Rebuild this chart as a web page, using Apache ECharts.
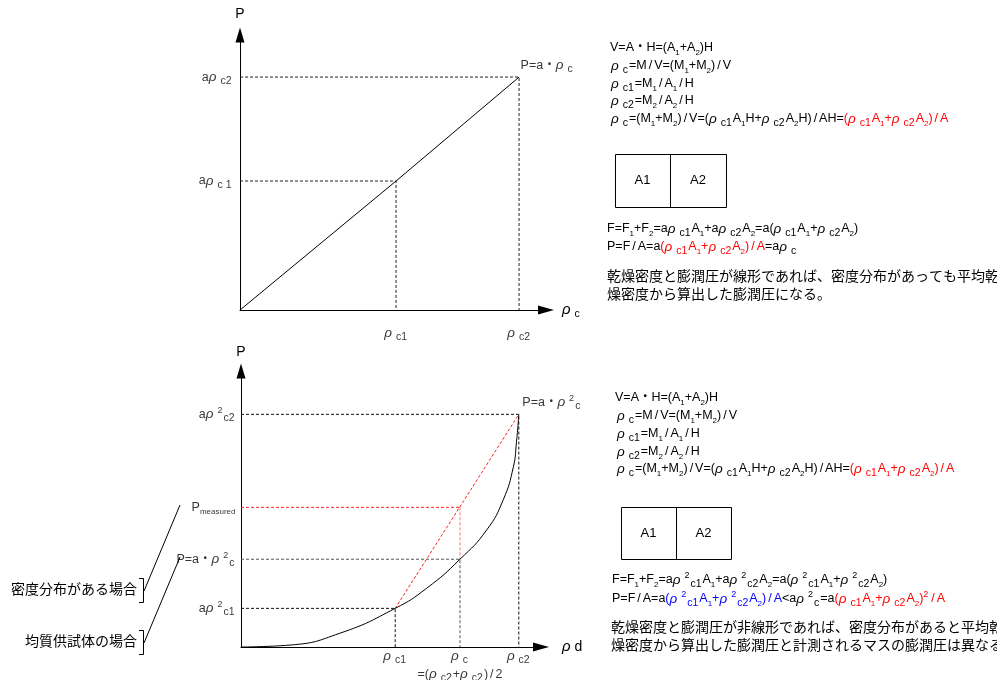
<!DOCTYPE html>
<html><head><meta charset="utf-8">
<script src="https://cdn.jsdelivr.net/npm/echarts@6/dist/echarts.min.js"></script>
<style>html,body{margin:0;padding:0;background:#fff}#c{width:997px;height:680px}</style>
</head><body><div id="c"></div><script>
// ---------------- data ----------------
// upper diagram (linear)
const topRho = [5.10, 9.12];              // ρc1, ρc2
const topP = [4.69, 8.47];                // aρc1, aρc2
const topLineX = [0, 5.10, 9.12];
const topLineY = [0, 4.69, 8.47];
const topXLabels = ['ρ_{c1}', 'ρ_{c2}'];
const topYLabels = ['aρ_{c 1}', 'aρ_{c2}'];
const topCurveLabel = 'P=a・ρ_c';
const topAxisNames = ['ρ_c', 'P'];

// lower diagram (non-linear)
const curveX = [0, 1.63, 3.30, 5.14, 6.19, 7.30, 8.19, 8.74, 9.08, 9.18, 9.26];
const curveY = [0, 0.07, 0.50, 1.40, 2.13, 3.18, 4.24, 5.33, 6.53, 7.40, 8.43];
const botRho = [5.14, 7.30, 9.26];        // ρc1, ρc, ρc2
const botP = [1.40, 3.18, 8.43];          // aρ²c1, aρ²c, aρ²c2
const pMeasured = 5.06;
const botXLabels = ['ρ_{c1}', 'ρ_c\n=(ρ_{c2}+ρ_{c2})/2', 'ρ_{c2}'];
const botYLabels = ['aρ^2_{c1}', 'P=a・ρ^2_c', 'aρ^2_{c2}'];
const pMeasuredLabel = 'P_{measured}';
const botCurveLabel = 'P=a・ρ^2_c';
const botAxisNames = ['ρd', 'P'];

// text blocks
const formulas = ['V=A・H=(A_1+A_2)H', 'ρ_c=M/V=(M_1+M_2)/V', 'ρ_{c1}=M_1/A_1/H', 'ρ_{c2}=M_2/A_2/H',
  'ρ_c=(M_1+M_2)/V=(ρ_{c1}A_1H+ρ_{c2}A_2H)/AH=#r(ρ_{c1}A_1+ρ_{c2}A_2)/A'];
const forceTop = ['F=F_1+F_2=aρ_{c1}A_1+aρ_{c2}A_2=a(ρ_{c1}A_1+ρ_{c2}A_2)',
  'P=F/A=a#r(ρ_{c1}A_1+ρ_{c2}A_2)/A#k=aρ_c'];
const forceBot = ['F=F_1+F_2=aρ^2_{c1}A_1+aρ^2_{c2}A_2=a(ρ^2_{c1}A_1+ρ^2_{c2}A_2)',
  'P=F/A=a#b(ρ^2_{c1}A_1+ρ^2_{c2}A_2)/A#k<aρ^2_c=a#r(ρ_{c1}A_1+ρ_{c2}A_2)^2/A'];
const noteTop = ['乾燥密度と膨潤圧が線形であれば、密度分布があっても平均乾', '燥密度から算出した膨潤圧になる。'];
const noteBot = ['乾燥密度と膨潤圧が非線形であれば、密度分布があると平均乾', '燥密度から算出した膨潤圧と計測されるマスの膨潤圧は異なる。'];
const caseLabels = ['密度分布がある場合', '均質供試体の場合'];
const boxLabels = ['A1', 'A2'];

// ---------------- helpers ----------------
const FONT = "'Liberation Sans', 'Noto Sans CJK JP', sans-serif";
const JFONT = "'Noto Sans CJK JP', sans-serif";
function mkRich(base) {
  const cols = {k: '#000000', r: '#ff0000', b: '#0000ff'};
  const R = {};
  for (const c in cols) {
    const col = cols[c];
    const common = {color: col, fill: col, fontFamily: FONT, lineHeight: 18};
    R[c] = Object.assign({}, common, {fontSize: base, verticalAlign: 'middle'});
    R[c + 'l'] = Object.assign({}, common, {fontSize: base, verticalAlign: 'middle', padding: [0, 2, 0, 2]});
    R[c + 's'] = Object.assign({}, common, {fontSize: 8, height: 9, verticalAlign: 'bottom'});
    R[c + 'q'] = Object.assign({}, common, {fontSize: 10.5, height: 10, verticalAlign: 'bottom', padding: [0, 1, 0, 0]});
    R[c + 'u'] = Object.assign({}, common, {fontSize: 9, height: 10, verticalAlign: 'top', padding: [0, 1, 0, 0]});
    R[c + 'p'] = Object.assign({}, common, {fontSize: base + 1, fontStyle: 'italic', verticalAlign: 'middle', padding: [0, 4, 0, 0]});
  }
  return R;
}
const RICH = mkRich(12.5);
const RICH_AX = mkRich(14);
function rt(src) {
  let out = '', col = 'k', buf = '', afterRho = false;
  const flush = () => { if (buf) { out += '{' + col + '|' + buf + '}'; buf = ''; afterRho = false; } };
  for (let i = 0; i < src.length; i++) {
    const ch = src[i];
    if (ch === '#') { flush(); col = src[++i]; continue; }
    if (ch === '\n') { flush(); out += '\n'; afterRho = false; continue; }
    if (ch === '_' || ch === '^') {
      flush();
      let s, j = i + 1;
      if (src[j] === '{') { const e = src.indexOf('}', j); s = src.slice(j + 1, e); i = e; }
      else { s = src[j]; i = j; }
      const st = ch === '^' ? 'u' : (afterRho ? 'q' : 's');
      out += '{' + col + st + '|' + s + '}';
      if (ch === '_') afterRho = false;
      continue;
    }
    if (ch === 'ρ') { flush(); out += '{' + col + 'p|ρ}'; afterRho = true; continue; }
    if (ch === '/') { flush(); out += '{' + col + 'l|/}'; continue; }
    buf += ch;
  }
  flush();
  return out;
}
function axisX(gi, name, gap) {
  return {type: 'value', gridIndex: gi, min: 0, max: 10, name: rt(name), nameLocation: 'end', nameGap: gap,
    nameTextStyle: {rich: RICH_AX},
    axisLine: {show: true, onZero: false, symbol: ['none', 'triangle'], symbolSize: [9, 16], lineStyle: {color: '#000', width: 1}},
    axisTick: {show: false}, axisLabel: {show: false}, splitLine: {show: false}};
}
function axisY(gi, name, gap) {
  return {type: 'value', gridIndex: gi, min: 0, max: 10, name: rt(name), nameLocation: 'end', nameGap: gap,
    nameTextStyle: {rich: RICH_AX},
    axisLine: {show: true, onZero: false, symbol: ['none', 'triangle'], symbolSize: [9, 15], lineStyle: {color: '#000', width: 1}},
    axisTick: {show: false}, axisLabel: {show: false}, splitLine: {show: false}};
}
function dash(gi, pts, color) {
  return {type: 'line', xAxisIndex: gi, yAxisIndex: gi, data: pts, symbol: 'none', silent: true, z: 1,
    lineStyle: {color: color, width: 1, type: [3, 2]}};
}
function solid(gi, pts, smooth) {
  return {type: 'line', xAxisIndex: gi, yAxisIndex: gi, data: pts, symbol: 'none', silent: true, z: 3,
    smooth: smooth || false, lineStyle: {color: '#000', width: 1}};
}
function labels(gi, pts, texts, pos, dist, extra) {
  return {type: 'scatter', xAxisIndex: gi, yAxisIndex: gi, symbolSize: 1, silent: true, z: 5,
    itemStyle: {color: 'rgba(0,0,0,0)'},
    data: pts.map((p, i) => ({value: p, name: rt(texts[i])})),
    label: Object.assign({show: true, position: pos, distance: dist, color: '#000', formatter: p => p.name, rich: RICH}, extra || {})};
}
function gtext(x, y, src, align) {
  return {type: 'text', x: x, y: y, silent: true,
    style: {text: rt(src), rich: RICH, align: align || 'left', verticalAlign: 'middle', font: '12.5px ' + FONT, fill: '#000'}};
}
function jtext(x, y, s, align) {
  return {type: 'text', x: x, y: y, silent: true,
    style: {text: s, align: align || 'left', verticalAlign: 'middle', font: '14px ' + JFONT, fill: '#000'}};
}
function box(x, y, w, h, dx) {
  return [
    {type: 'rect', shape: {x: x + 0.5, y: y + 0.5, width: w, height: h}, style: {fill: 'none', stroke: '#000', lineWidth: 1}, silent: true},
    {type: 'line', shape: {x1: x + dx + 0.5, y1: y, x2: x + dx + 0.5, y2: y + h}, style: {stroke: '#000', lineWidth: 1}, silent: true},
    {type: 'text', x: x + dx / 2, y: y + h / 2, silent: true, style: {text: boxLabels[0], font: '13px ' + FONT, fill: '#000', align: 'center', verticalAlign: 'middle'}},
    {type: 'text', x: x + dx + (w - dx) / 2, y: y + h / 2, silent: true, style: {text: boxLabels[1], font: '13px ' + FONT, fill: '#000', align: 'center', verticalAlign: 'middle'}}
  ];
}

// ---------------- series ----------------
const series = [];
// upper
series.push(solid(0, topLineX.map((x, i) => [x, topLineY[i]])));
topRho.forEach((x, i) => series.push(dash(0, [[0, topP[i]], [x, topP[i]], [x, 0]], '#222')));
series.push(labels(0, topP.map(p => [0, p]), topYLabels, 'left', 7));
series.push(labels(0, topRho.map(x => [x, 0]), topXLabels, 'bottom', 14));
series.push(labels(0, [[topRho[1], topP[1]]], [topCurveLabel], 'right', 1, {offset: [0, -12]}));
// lower
series.push(solid(1, curveX.map((x, i) => [x, curveY[i]]), 0.5));
series.push(dash(1, [[0, botP[0]], [botRho[0], botP[0]], [botRho[0], 0]], '#111'));
series.push(dash(1, [[0, botP[2]], [botRho[2], botP[2]], [botRho[2], 0]], '#111'));
series.push(dash(1, [[0, botP[1]], [botRho[1], botP[1]], [botRho[1], 0]], '#555'));
series.push(dash(1, [[0, pMeasured], [botRho[1], pMeasured]], '#ff2020'));
series.push(dash(1, [[botRho[1], pMeasured], [botRho[1], botP[1]]], '#ff7070'));
series.push(dash(1, [[botRho[0], botP[0]], [botRho[2], botP[2]]], '#ff2020'));
series.push(labels(1, botP.map(p => [0, p]).concat([[0, pMeasured]]), botYLabels.concat([pMeasuredLabel]), 'left', 5));
series.push(labels(1, botRho.map(x => [x, 0]), botXLabels, 'bottom', 0));
series.push(labels(1, [[botRho[2], botP[2]]], [botCurveLabel], 'right', 3, {offset: [0, -12]}));

// ---------------- graphics ----------------
const graphic = [];
const topYs = [48, 66, 84, 101, 119];
formulas.forEach((f, i) => graphic.push(gtext(i === 0 ? 610 : 611, topYs[i], f)));
graphic.push(...box(615, 154, 111, 53, 55));
graphic.push(gtext(607, 229, forceTop[0]), gtext(607, 247, forceTop[1]));
graphic.push(jtext(607, 276, noteTop[0]), jtext(607, 294, noteTop[1]));

const botYs = [398, 416, 434, 452, 469];
formulas.forEach((f, i) => graphic.push(gtext(i === 0 ? 615 : 617, botYs[i], f)));
graphic.push(...box(621, 507, 110, 52, 55));
graphic.push(gtext(612, 580, forceBot[0]), gtext(612, 599, forceBot[1]));
graphic.push(jtext(611, 627, noteBot[0]), jtext(611, 645, noteBot[1]));

// case labels with brackets
graphic.push(jtext(137, 589, caseLabels[0], 'right'), jtext(137, 641, caseLabels[1], 'right'));
graphic.push({type: 'polyline', silent: true, shape: {points: [[139, 578.5], [143.5, 578.5], [143.5, 602.5], [139, 602.5]]}, style: {fill: 'none', stroke: '#000', lineWidth: 1}});
graphic.push({type: 'polyline', silent: true, shape: {points: [[139, 630.5], [143.5, 630.5], [143.5, 654.5], [139, 654.5]]}, style: {fill: 'none', stroke: '#000', lineWidth: 1}});
graphic.push({type: 'line', silent: true, shape: {x1: 144, y1: 591, x2: 180, y2: 505}, style: {stroke: '#000', lineWidth: 1}});
graphic.push({type: 'line', silent: true, shape: {x1: 144, y1: 643, x2: 180, y2: 557}, style: {stroke: '#000', lineWidth: 1}});

const option = {
  animation: false,
  backgroundColor: '#ffffff',
  grid: [
    {left: 240, top: 35, width: 306, height: 275},
    {left: 241, top: 371, width: 300, height: 276}
  ],
  xAxis: [axisX(0, topAxisNames[0], 16), axisX(1, botAxisNames[0], 21)],
  yAxis: [axisY(0, topAxisNames[1], 12), axisY(1, botAxisNames[1], 10)],
  series: series,
  graphic: graphic
};
const chart = echarts.init(document.getElementById('c'), null, {renderer: 'canvas'});
chart.setOption(option);
</script></body></html>
